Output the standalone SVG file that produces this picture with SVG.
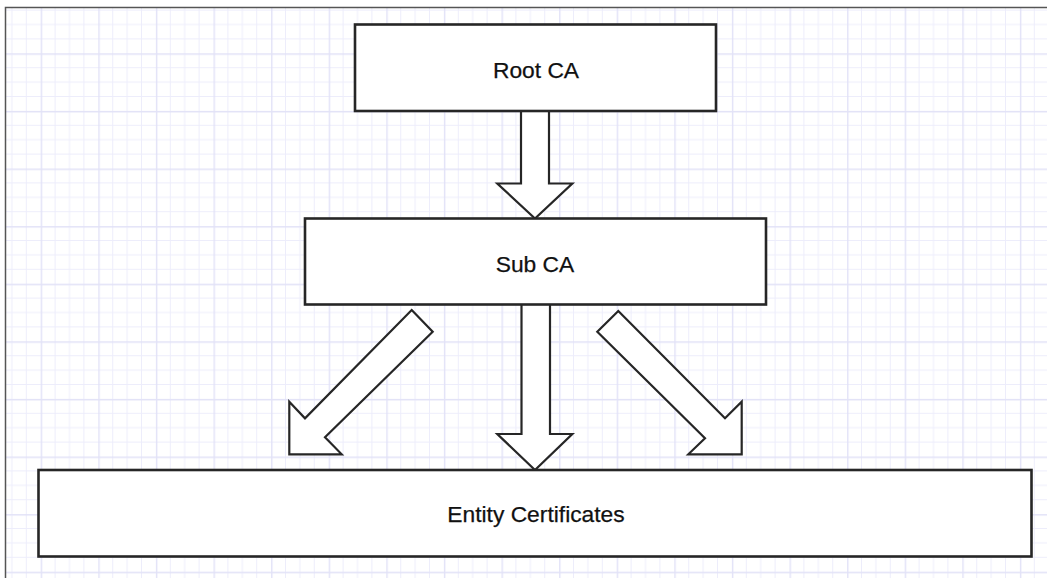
<svg xmlns="http://www.w3.org/2000/svg" width="1047" height="578" viewBox="0 0 1047 578">
  <style>
    .box { fill: #ffffff; stroke: #262626; stroke-width: 2.6; }
    .arrow { fill: #ffffff; stroke: #262626; stroke-width: 2.2; stroke-linejoin: miter; }
    .label { font-family: "Liberation Sans", Arial, sans-serif; font-size: 22.8px; fill: #111111; text-anchor: middle; stroke: #111111; stroke-width: 0.25; }
    .minor { stroke: #ededfb; stroke-width: 1; }
    .major { stroke: #e2e2f7; stroke-width: 1.4; }
  </style>
  <defs>
    <pattern id="grid" x="40.7" y="53.3" width="57.6" height="57.6" patternUnits="userSpaceOnUse">
      <line class="minor" x1="14.4" y1="0" x2="14.4" y2="57.6"/>
      <line class="minor" x1="28.8" y1="0" x2="28.8" y2="57.6"/>
      <line class="minor" x1="43.2" y1="0" x2="43.2" y2="57.6"/>
      <line class="minor" x1="0" y1="14.4" x2="57.6" y2="14.4"/>
      <line class="minor" x1="0" y1="28.8" x2="57.6" y2="28.8"/>
      <line class="minor" x1="0" y1="43.2" x2="57.6" y2="43.2"/>
      <line class="major" x1="0.7" y1="0" x2="0.7" y2="57.6"/>
      <line class="major" x1="0" y1="0.7" x2="57.6" y2="0.7"/>
    </pattern>
  </defs>

  <!-- page and drawing grid -->
  <rect x="0" y="0" width="1047" height="578" fill="#ffffff"/>
  <rect x="5" y="7" width="1042" height="571" fill="url(#grid)"/>
  <path d="M5.5 578 V7.5 H1047" fill="none" stroke="#555555" stroke-width="1.5"/>

  <!-- connectors -->
  <g id="connectors">
    <polygon id="root-to-sub" class="arrow" points="521,111 549,111 549,183.5 572.3,183.5 535,218.5 497.3,183.5 521,183.5"/>
    <polygon id="sub-to-entity-left" class="arrow" points="411.7,310 432.7,331.7 325,437.3 341.7,454.3 289.3,454.3 289.3,401.7 305,418.3"/>
    <polygon id="sub-to-entity-mid" class="arrow" points="521.5,304 550,304 550,434 572.3,434 535,470 497.3,434 521.5,434"/>
    <polygon id="sub-to-entity-right" class="arrow" points="618.3,311 597.3,331.7 705,438.3 688.3,454.3 741.7,454.3 741.7,401.7 725,418.3"/>
  </g>

  <!-- nodes -->
  <g id="root-ca">
    <rect class="box" x="355" y="24.5" width="361" height="86.5"/>
    <text class="label" x="536" y="77.5">Root CA</text>
  </g>
  <g id="sub-ca">
    <rect class="box" x="305" y="218.5" width="461" height="86"/>
    <text class="label" x="535" y="272">Sub CA</text>
  </g>
  <g id="entity-certificates">
    <rect class="box" x="38.5" y="470" width="993" height="86.5"/>
    <text class="label" x="536" y="522">Entity Certificates</text>
  </g>
</svg>
